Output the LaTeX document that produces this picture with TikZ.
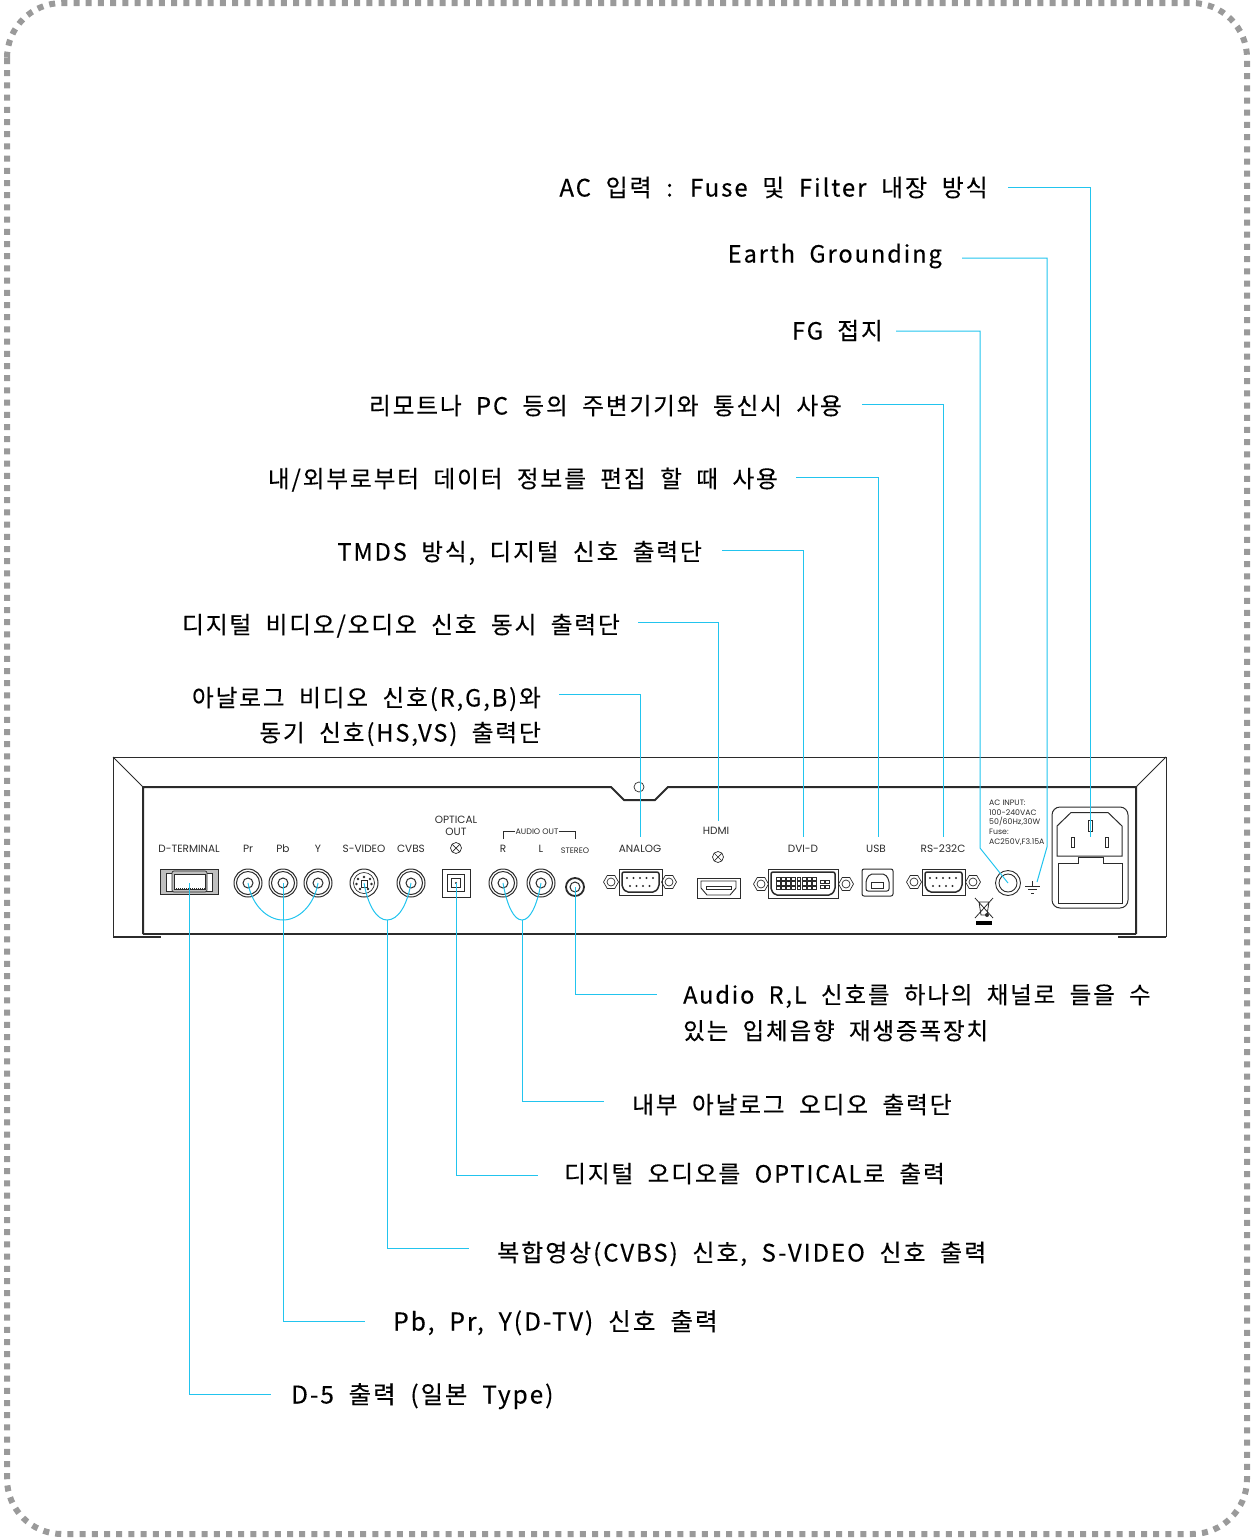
\documentclass[tikz,border=0pt]{standalone}
\usepackage{fontspec}
\setmainfont{Noto Sans CJK KR}[LetterSpace=8,WordSpace=2,FakeBold=0.25]
\newfontfamily\panelfont{Poppins}
\usetikzlibrary{positioning,shapes.geometric}

\definecolor{wirecyan}{HTML}{22C4EE}
\definecolor{dotgray}{HTML}{9A9A9A}
\definecolor{casegray}{HTML}{2B2B2B}

\tikzset{
    lbleft/.style = {anchor = east, inner ysep = 0pt, inner xsep = 20pt, text height = 24pt, text depth = 5pt, font = \fontsize{23.65}{28}\selectfont},
    lbright/.style = {anchor = west, inner ysep = 0pt, inner xsep = 26pt, text height = 24pt, text depth = 5pt, font = \fontsize{23.65}{28}\selectfont},
    panel/.style = {inner sep = 0pt, yshift = -0.7pt, text = casegray, font = \panelfont\fontsize{10.5}{12}\selectfont},
    wire/.style = {draw = wirecyan, line width = 1pt},
    case/.style = {draw = casegray, line width = 1pt},
    casethick/.style = {draw = casegray, line width = 2pt},
    rca/.style = {circle, draw = casegray, line width = 1pt, minimum size = 28pt, inner sep = 0pt,
        path picture = {\draw[casegray, line width = 1pt] (path picture bounding box.center) circle (11.5pt) circle (5pt);}},
    nut/.style = {regular polygon, regular polygon sides = 6, draw = casegray, line width = 0.7pt, minimum size = 15pt, inner sep = 0pt,
        path picture = {\draw[casegray, line width = 0.7pt] (path picture bounding box.center) circle (4pt);}},
    cross/.style = {circle, draw = casegray, line width = 0.7pt, minimum size = 11pt, inner sep = 0pt,
        path picture = {\draw[casegray, line width = 0.7pt] (path picture bounding box.south west) -- (path picture bounding box.north east)
            (path picture bounding box.north west) -- (path picture bounding box.south east);}}
}

\begin{document}
\begin{tikzpicture}[x = 1pt, y = -1pt]
    \useasboundingbox (0,0) rectangle (1252,1539);
    % border
    \draw[dotgray, line width = 6pt, dash pattern = on 6pt off 6.2pt, rounded corners = 55pt] (7,3) rectangle (1247,1534);

    % case
    \draw[case] (113,937) -- (113,757) -- (1166,757) -- (1166,937);
    \draw[case] (113,757) -- (143,787) (1166,757) -- (1136,787);
    \draw[casethick] (143,934) -- (143,787) -- (611,787) -- (624,800) -- (655,800) -- (668,787) -- (1136,787) -- (1136,934);
    \draw[case, line width = 1.3pt] (143,934) -- (1136,934);
    \draw[casethick] (113,937) -- (161,937) (1118,937) -- (1166,937);
    \node[circle, draw = casegray, line width = 0.7pt, minimum size = 10pt, inner sep = 0pt] (screw) at (639,787) {};

    % panel texts
    \node[panel] (tdterm) at (189,848) {D-TERMINAL};
    \node[panel] (tpr) at (248,848) {Pr};
    \node[panel] (tpb) at (283,848) {Pb};
    \node[panel] (ty) at (318,848) {Y};
    \node[panel] (tsvideo) at (364,848) {S-VIDEO};
    \node[panel] (tcvbs) at (411,848) {CVBS};
    \node[panel] (topt) at (456,819) {OPTICAL};
    \node[panel] (tout) at (456,831) {OUT};
    \node[panel, font = \panelfont\fontsize{8}{10}\selectfont] (taudio) at (537,831) {AUDIO OUT};
    \node[panel] (tr) at (503,848) {R};
    \node[panel] (tl) at (541,848) {L};
    \node[panel, font = \panelfont\fontsize{8}{10}\selectfont] (tstereo) at (575,850) {STEREO};
    \node[panel] (tanalog) at (640,848) {ANALOG};
    \node[panel] (thdmi) at (716,830) {HDMI};
    \node[panel] (tdvi) at (803,848) {DVI-D};
    \node[panel] (tusb) at (876,848) {USB};
    \node[panel] (trs) at (943,848) {RS-232C};
    \node[panel, anchor = north west, align = left, font = \panelfont\fontsize{7.8}{9.7}\selectfont] (tac) at (989,799) {AC INPUT:\\100-240VAC\\50/60Hz,30W\\Fuse:\\AC250V,F3.15A};
    \draw[case, line width = 0.7pt] (503,839) |- (taudio.west) (taudio.east) -| (575,839);

    % ports
    \draw[fill = black!25, draw = casegray, line width = 0.7pt] (160,869.5) rectangle (218,894);
    \draw[fill = white, draw = casegray, line width = 0.7pt] (166,873) rectangle (212,891);
    \draw[fill = black!25, draw = casegray, line width = 0.7pt, rounded corners = 2pt] (172,871) rectangle (207,892);
    \draw[fill = white, draw = casegray, line width = 0.7pt] (174,874) rectangle (205,889);
    \draw[casegray, densely dotted, line width = 1pt] (174,874.5) -- (205,874.5) (174,888.5) -- (205,888.5);
    \coordinate (dterm) at (189,883);
    \node[rca] (pr) at (248,883) {};
    \node[rca] (pb) at (283,883) {};
    \node[rca] (y) at (318,883) {};
    \node[rca, path picture = {\draw[casegray, line width = 0.7pt] (path picture bounding box.center) circle (10.5pt);}] (svideo) at (364,883) {};
    \draw[casegray, line width = 0.8pt] (361,880) rectangle (367,887);
    \fill[casegray] (358,879) circle (1.4pt) (370,879) circle (1.4pt) (356.5,884) circle (1.4pt) (371.5,884) circle (1.4pt) (360,889) circle (1.4pt) (368,889) circle (1.4pt) (364,877) circle (1.4pt);
    \node[rca] (cvbs) at (411,883) {};
    \node[cross] (xopt) at (456,848) {};
    \node[rectangle, draw = casegray, line width = 1pt, minimum size = 28pt, inner sep = 0pt] (opt) at (456,883) {};
    \draw[casegray, line width = 1pt] (447.5,874.5) rectangle (464.5,891.5);
    \draw[casegray, line width = 1pt] (451.5,878.5) rectangle (460.5,887.5);
    \fill[casegray] (opt.center) circle (1.2pt);
    \node[rca] (r) at (503,883) {};
    \node[rca] (l) at (541,883) {};
    \node[circle, draw = casegray, line width = 1.8pt, minimum size = 18pt, inner sep = 0pt] (stereo) at (575,887) {};
    \draw[casegray, line width = 1pt] (stereo.center) circle (5pt);

    \node[nut] (nutana) at (611,882) {};
    \node[nut] (nutanb) at (669,882) {};
    \draw[case] (619,869) rectangle (662,895);
    \draw[casethick, line width = 1.5pt, rounded corners = 2pt] (622,872) -- (659,872) -- (659,887) -- (655,892) -- (626,892) -- (622,887) -- cycle;
    \foreach \i in {0,...,4} \fill[casegray] (627+6.5*\i,878) circle (1.2pt);
    \foreach \i in {0,...,3} \fill[casegray] (630+6.5*\i,886) circle (1.2pt);

    \node[cross] (xhdmi) at (718,857) {};
    \node[rectangle, draw = casegray, line width = 1pt, minimum width = 43pt, minimum height = 20pt, inner sep = 0pt] (hdmi) at (718.5,888) {};
    \draw[casegray, line width = 0.9pt] (701,881) -- (736,881) -- (736,888) -- (730,895) -- (707,895) -- (701,888) -- cycle;
    \draw[casegray, line width = 0.7pt] (706,886) rectangle (731,889);

    \node[nut] (nutdva) at (761,884) {};
    \node[nut] (nutdvb) at (846,884) {};
    \draw[case] (768,869) rectangle (838,898);
    \draw[casethick, line width = 1.5pt, rounded corners = 2pt] (771,872) -- (835,872) -- (835,890) -- (831,895) -- (775,895) -- (771,890) -- cycle;
    \foreach \i in {0,...,7} \foreach \j in {0,1,2} \draw[casegray, line width = 0.5pt] (776+5.2*\i,877+4.6*\j) rectangle +(3.8,3.4);
    \foreach \i in {0,1} \foreach \j in {0,1} \draw[casegray, line width = 0.5pt] (820+5.5*\i,880+5*\j) rectangle +(3.8,3.6);

    \draw[case, rounded corners = 2pt] (862,869) rectangle (893,896);
    \draw[case, rounded corners = 2pt] (866,880) -- (870,874) -- (885,874) -- (889,880) -- (889,891) -- (866,891) -- cycle;
    \node[rectangle, draw = casegray, line width = 0.7pt, minimum width = 12pt, minimum height = 6pt, inner sep = 0pt] (usb) at (877.5,885) {};

    \node[nut] (nutrsa) at (914,882) {};
    \node[nut] (nutrsb) at (973,882) {};
    \draw[case] (922,869) rectangle (965,895);
    \draw[casethick, line width = 1.5pt, rounded corners = 2pt] (925,872) -- (962,872) -- (962,887) -- (958,892) -- (929,892) -- (925,887) -- cycle;
    \foreach \i in {0,...,4} \fill[casegray] (930+6.5*\i,878) circle (1.2pt);
    \foreach \i in {0,...,3} \fill[casegray] (933+6.5*\i,886) circle (1.2pt);

    % fg terminal, ground, recycle mark
    \node[circle, draw = casegray, line width = 0.9pt, minimum size = 25pt, inner sep = 0pt] (fgpost) at (1008,883) {};
    \draw[casegray, line width = 0.9pt] (fgpost.center) circle (9pt);
    \draw[casegray, line width = 0.7pt] (1032.5,881) -- (1032.5,886) (1025,886) -- (1040,886) (1028,889.5) -- (1037,889.5) (1031,893) -- (1034,893);
    \coordinate (gnd) at (1037,882);
    \draw[casegray, line width = 0.8pt] (975,898) -- (993,918) (993,898) -- (975,918) (978,902) -- (990,902) (979,902) -- (981,915) -- (987,915) -- (989,902);
    \fill[casegray] (987,915) circle (2pt);
    \fill[black] (976,921) rectangle (992,925);

    % ac inlet
    \draw[case, rounded corners = 8pt] (1052,807) rectangle (1128,908);
    \draw[case] (1057,826) -- (1071,812.5) -- (1108,812.5) -- (1122,826) -- (1122,856) -- (1057,856) -- cycle;
    \draw[case] (1058,863) -- (1078,863) -- (1078,857) -- (1103,857) -- (1103,863) -- (1122,863) -- (1122,903) -- (1058,903) -- cycle;
    \node[rectangle, draw = casegray, line width = 0.7pt, minimum width = 3pt, minimum height = 10pt, inner sep = 0pt] (slotl) at (1073,842) {};
    \node[rectangle, draw = casegray, line width = 0.7pt, minimum width = 3pt, minimum height = 10pt, inner sep = 0pt] (slotr) at (1107,842) {};
    \node[rectangle, draw = casegray, line width = 0.7pt, minimum width = 4pt, minimum height = 11pt, inner sep = 0pt] (slott) at (1090,826) {};

    % top labels
    \node[lbleft, font = \fontsize{24}{28}\selectfont] (lac) at (1008,187) {AC 입력 : Fuse 및 Filter 내장 방식};
    \node[lbleft, text height = 14pt] (learth) at (962,258) {Earth Grounding};
    \node[lbleft, text height = 22pt, inner xsep = 13pt] (lfg) at (896,331) {FG 접지};
    \node[lbleft, text height = 26pt] (lremote) at (862,404) {리모트나 PC 등의 주변기기와 통신시 사용};
    \node[lbleft, text height = 26pt, inner xsep = 18pt] (ledit) at (796,477) {내/외부로부터 데이터 정보를 편집 할 때 사용};
    \node[lbleft, text height = 26pt] (ltmds) at (722,550) {TMDS 방식, 디지털 신호 출력단};
    \node[lbleft, text height = 28pt, inner xsep = 18pt] (lhdmi) at (638,622) {디지털 비디오/오디오 신호 동시 출력단};
    \node[lbleft, text height = 30pt, inner xsep = 18pt] (lanalog) at (559,694) {아날로그 비디오 신호(R,G,B)와};
    \node[lbleft, inner xsep = 18pt] (lsync) at (559,732) {동기 신호(HS,VS) 출력단};

    % bottom labels
    \node[lbright, font = \fontsize{23.5}{28}\selectfont] (lstereo) at (657,994) {Audio R,L 신호를 하나의 채널로 들을 수};
    \node[lbright, font = \fontsize{23.5}{28}\selectfont] (lstereob) at (657,1030) {있는 입체음향 재생증폭장치};
    \node[lbright, text height = 30pt, inner xsep = 28pt] (laudio) at (604,1101) {내부 아날로그 오디오 출력단};
    \node[lbright, text height = 20pt] (lopt) at (538,1175) {디지털 오디오를 OPTICAL로 출력};
    \node[lbright, text height = 32pt, inner xsep = 28pt, font = \fontsize{24}{28}\selectfont] (lcvbs) at (469,1248) {복합영상(CVBS) 신호, S-VIDEO 신호 출력};
    \node[lbright, inner xsep = 28pt, font = \fontsize{24.6}{28}\selectfont] (lpb) at (365,1321) {Pb, Pr, Y(D-TV) 신호 출력};
    \node[lbright, inner xsep = 20pt, font = \fontsize{24.4}{28}\selectfont] (ldfive) at (271,1394) {D-5 출력 (일본 Type)};

    % connectors
    \coordinate (inlet) at (1090,837);
    \coordinate (earthbend) at (1047,847);
    \coordinate (fgbend) at (980,848);
    \coordinate (rsend) at (943,837);
    \coordinate (usbend) at (878,837);
    \coordinate (dviend) at (803,837);
    \coordinate (hdmiend) at (718,821);
    \coordinate (analogend) at (640,837);
    \coordinate (pbjoin) at (283,920);
    \coordinate (cvjoin) at (387,920);
    \coordinate (rljoin) at (522,920);

    \draw[wire] (lac.east) -| (inlet);
    \draw[wire] (learth.east) -| (earthbend) -- (gnd);
    \draw[wire] (lfg.east) -| (fgbend) -- (fgpost.center);
    \draw[wire] (lremote.east) -| (rsend);
    \draw[wire] (ledit.east) -| (usbend);
    \draw[wire] (ltmds.east) -| (dviend);
    \draw[wire] (lhdmi.east) -| (hdmiend);
    \draw[wire] (lanalog.east) -| (analogend);

    \draw[wire] (stereo.center) |- (lstereo.west);
    \draw[wire] (rljoin) |- (laudio.west);
    \draw[wire] (opt.center) |- (lopt.west);
    \draw[wire] (cvjoin) |- (lcvbs.west);
    \draw[wire] (pb.center) |- (lpb.west);
    \draw[wire] (dterm) |- (ldfive.west);

    \draw[wire] (pr.center) .. controls (252,906) and (268,920) .. (pbjoin) .. controls (298,920) and (314,906) .. (y.center);
    \draw[wire] (svideo.center) .. controls (368,906) and (377,920) .. (cvjoin) .. controls (398,920) and (407,906) .. (cvbs.center);
    \draw[wire] (r.center) .. controls (507,906) and (514,920) .. (rljoin) .. controls (530,920) and (537,906) .. (l.center);
\end{tikzpicture}
\end{document}
